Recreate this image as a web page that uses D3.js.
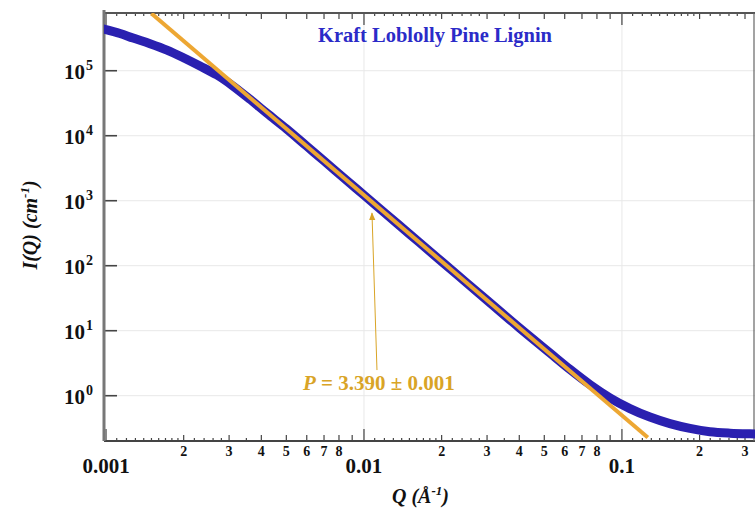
<!DOCTYPE html>
<html>
<head>
<meta charset="utf-8">
<script src="https://cdn.jsdelivr.net/npm/d3@7"></script>
<style>
  body { margin: 0; background: #fff; }
  svg { display: block; font-family: "Liberation Serif", "Times New Roman", serif; }
</style>
</head>
<body>
<div id="chart"></div>
<script>
// scattering data
var qData = [0.000982, 0.001133, 0.001273, 0.001481, 0.001723, 0.002024, 0.002313, 0.002692,
             0.003107, 0.003616, 0.004208, 0.005, 0.006, 0.007, 0.0085, 0.01, 0.012, 0.015,
             0.02, 0.025, 0.03, 0.04, 0.0526, 0.0629, 0.0752, 0.0898, 0.1074, 0.1284,
             0.1535, 0.1835, 0.2193, 0.2622, 0.3133, 0.328];
var iData = [4.38e5, 3.74e5, 3.18e5, 2.61e5, 2.08e5, 1.54e5, 1.18e5, 8.59e4,
             5.82e4, 3.63e4, 2.21e4, 1.28e4, 6.9e3, 4.1e3, 2.11e3, 1.22e3, 657, 308,
             116, 54.5, 29.4, 11.1, 4.54, 2.54, 1.48, 0.928, 0.633, 0.469,
             0.372, 0.314, 0.279, 0.265, 0.259, 0.258];

// power law fit line end points
var fitQ = [0.0015, 0.126];
var fitI = [7.6e5, 0.227];

var yDecades = [1, 10, 100, 1e3, 1e4, 1e5];
var xDecades = [0.001, 0.01, 0.1];
var xMinorLabels = ["2", "3", "4", "5", "6", "7", "8"];

var width = 756, height = 509;
var margin = {left: 104, right: 1, top: 13, bottom: 68};

var x = d3.scaleLog().domain([0.000982, 0.328]).range([margin.left, width - margin.right]);
var y = d3.scaleLog().domain([0.201, 7.73e5]).range([height - margin.bottom, margin.top]);

var svg = d3.select("#chart").append("svg")
    .attr("width", width).attr("height", height);

var x0 = x.range()[0], x1 = x.range()[1], y0 = y.range()[0], y1 = y.range()[1];

svg.append("defs").append("clipPath").attr("id", "clip")
  .append("rect").attr("x", x0).attr("y", y1).attr("width", x1 - x0).attr("height", y0 - y1);

// faint grid
var grid = svg.append("g").attr("stroke", "#e8e8e8").attr("stroke-width", 1);
grid.selectAll(".gy").data(yDecades).enter().append("line")
  .attr("x1", x0).attr("x2", x1)
  .attr("y1", function(d){ return y(d); }).attr("y2", function(d){ return y(d); });
grid.selectAll(".gx").data(xDecades.slice(1)).enter().append("line")
  .attr("y1", y1).attr("y2", y0)
  .attr("x1", function(d){ return x(d); }).attr("x2", function(d){ return x(d); });

// ticks on the x axes (bottom + top mirrored, pointing inward)
var fine = [];
xDecades.forEach(function(d){
  [1.1,1.2,1.3,1.4,1.5,1.6,1.7,1.8,1.9,2.2,2.4,2.6,2.8,3.5].forEach(function(m){
    if (d*m < x.domain()[1]) fine.push(d*m);
  });
});
var minor = [];
xDecades.forEach(function(d){
  for (var m = 2; m <= 9; m++) if (d*m < x.domain()[1]) minor.push({v: d*m, m: m});
});

var tickG = svg.append("g").attr("stroke", "#444").attr("stroke-width", 1.2);
[[y0, -1], [y1, 1]].forEach(function(side){
  var yy = side[0], dir = side[1];
  tickG.append("g").selectAll("line").data(fine).enter().append("line")
    .attr("x1", function(d){ return x(d); }).attr("x2", function(d){ return x(d); })
    .attr("y1", yy).attr("y2", yy + dir*3);
  tickG.append("g").selectAll("line").data(minor).enter().append("line")
    .attr("x1", function(d){ return x(d.v); }).attr("x2", function(d){ return x(d.v); })
    .attr("y1", yy).attr("y2", yy + dir*6);
  tickG.append("g").selectAll("line").data(xDecades).enter().append("line")
    .attr("x1", function(d){ return x(d); }).attr("x2", function(d){ return x(d); })
    .attr("y1", yy).attr("y2", yy + dir*12);
});

// y major ticks
tickG.append("g").selectAll("line").data(yDecades).enter().append("line")
  .attr("x1", x0).attr("x2", x0 + 13)
  .attr("y1", function(d){ return y(d); }).attr("y2", function(d){ return y(d); })
  .attr("stroke-width", 1.6);

// frame
svg.append("line").attr("x1", x0).attr("x2", x1).attr("y1", y0).attr("y2", y0)
  .attr("stroke", "#444").attr("stroke-width", 2);
svg.append("line").attr("x1", x0).attr("x2", x1).attr("y1", y1).attr("y2", y1)
  .attr("stroke", "#555").attr("stroke-width", 2);
svg.append("line").attr("x1", x0).attr("x2", x0).attr("y1", y1 - 3).attr("y2", y0)
  .attr("stroke", "#777").attr("stroke-width", 3);
svg.append("line").attr("x1", x1 - 1).attr("x2", x1 - 1).attr("y1", y1).attr("y2", y0)
  .attr("stroke", "#666").attr("stroke-width", 1.2);

// data
var plot = svg.append("g").attr("clip-path", "url(#clip)");
var line = d3.line().x(function(d){ return x(d[0]); }).y(function(d){ return y(d[1]); })
  .curve(d3.curveMonotoneX);

plot.append("path").datum(d3.zip(qData, iData))
  .attr("d", line)
  .attr("fill", "none").attr("stroke", "#2a20b0").attr("stroke-width", 9)
  .attr("stroke-linecap", "round").attr("stroke-linejoin", "round");

plot.append("path").datum(d3.zip(fitQ, fitI))
  .attr("d", d3.line().x(function(d){ return x(d[0]); }).y(function(d){ return y(d[1]); }))
  .attr("fill", "none").attr("stroke", "#eda733").attr("stroke-width", 4);

// tick labels
var yl = svg.append("g").attr("font-weight", "bold").attr("fill", "#111");
yDecades.forEach(function(d){
  yl.append("text").attr("x", 85).attr("y", y(d) + 8)
    .attr("text-anchor", "end").attr("font-size", 21).text("10");
  yl.append("text").attr("x", 86).attr("y", y(d) - 1)
    .attr("font-size", 14).text(Math.round(Math.log10(d)));
});
xDecades.forEach(function(d){
  yl.append("text").attr("x", x(d)).attr("y", 473).attr("text-anchor", "middle")
    .attr("font-size", 21).text(d3.format("")(d));
});
yl.selectAll(".ml").data(minor.filter(function(d){ return d.m <= 8; })).enter().append("text")
  .attr("x", function(d){ return x(d.v); }).attr("y", 456).attr("text-anchor", "middle")
  .attr("font-size", 14).text(function(d){ return xMinorLabels[d.m - 2]; });

// title
svg.append("text").attr("x", 435).attr("y", 42).attr("text-anchor", "middle")
  .attr("font-size", 20.5).attr("font-weight", "bold").attr("fill", "#2b2bc8")
  .text("Kraft Loblolly Pine Lignin");

// axis titles
var yt = svg.append("text").attr("transform", "translate(37,225) rotate(-90)")
  .attr("text-anchor", "middle").attr("font-size", 20).attr("font-weight", "bold")
  .attr("font-style", "italic").attr("fill", "#111");
yt.append("tspan").text("I(Q) (cm");
yt.append("tspan").attr("font-size", 13).attr("dy", -8).text("-1");
yt.append("tspan").attr("dy", 8).text(")");

var xt = svg.append("text").attr("x", 392).attr("y", 503)
  .attr("font-size", 20).attr("font-weight", "bold").attr("font-style", "italic").attr("fill", "#111");
xt.append("tspan").text("Q (Å");
xt.append("tspan").attr("font-size", 13).attr("dy", -8).text("-1");
xt.append("tspan").attr("dy", 8).text(")");

// annotation with arrow
var gold = "#d9a426";
svg.select("defs").append("marker").attr("id", "arr")
  .attr("viewBox", "0 0 10 10").attr("refX", 9).attr("refY", 5)
  .attr("markerWidth", 8).attr("markerHeight", 8).attr("orient", "auto-start-reverse")
  .append("path").attr("d", "M0,1L10,5L0,9Z").attr("fill", gold);
svg.append("line")
  .attr("x1", x(0.01123)).attr("y1", y(2.48))
  .attr("x2", x(0.01074)).attr("y2", y(646))
  .attr("stroke", gold).attr("stroke-width", 1).attr("marker-end", "url(#arr)");

var at = svg.append("text").attr("x", 303).attr("y", 390)
  .attr("font-size", 21).attr("font-weight", "bold").attr("fill", gold);
at.append("tspan").attr("font-style", "italic").text("P");
at.append("tspan").text(" = 3.390 ± 0.001");
</script>
</body>
</html>
